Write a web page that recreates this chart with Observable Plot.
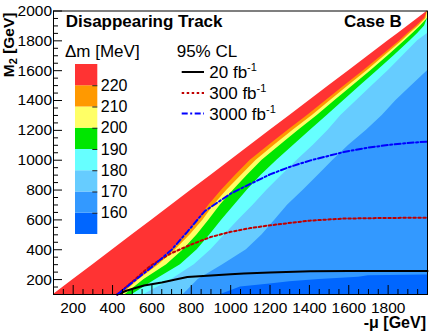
<!DOCTYPE html>
<html><head><meta charset="utf-8">
<script src="https://cdn.jsdelivr.net/npm/d3@7"></script>
<script src="https://cdn.jsdelivr.net/npm/@observablehq/plot@0.6"></script>
<style>
body{margin:0;background:#fff;}
#wrap{position:relative;width:433px;height:335px;font-family:"Liberation Sans",Arial,Helvetica,sans-serif;}
#wrap svg{position:absolute;overflow:visible;}
</style></head><body><div id="wrap"></div>
<script>
// ---- data: contour boundaries of Δm (x = -μ at each M2 row) ----
const yRows = [100,200,300,400,500,600,700,800,900,1000,1100,1200,1300,1400,1500,1600,1700,1800,1850,1900,1950,2000];
const c220 = [435,520,615,700,770,835,890,955,1025,1100,1195,1292,1390,1485,1580,1675,1768,1860,1900,1945,1985,2000];
const c210 = [448,535,635,720,795,860,915,982,1055,1130,1222,1317,1415,1507,1600,1693,1783,1872,1911,1955,1992,2000];
const c200 = [465,560,675,760,830,890,948,1015,1085,1160,1252,1345,1440,1530,1622,1712,1800,1885,1925,1965,2000,2000];
const c190 = [500,620,745,830,895,955,1020,1085,1155,1235,1320,1405,1490,1575,1660,1745,1830,1912,1950,1985,2000,2000];
const c180 = [560,700,815,900,970,1040,1115,1185,1260,1338,1420,1495,1560,1640,1720,1800,1875,1950,2000,2000,2000,2000];
const c170 = [760,835,960,1080,1160,1225,1290,1370,1445,1520,1600,1690,1770,1840,1920,2000,2000,2000,2000,2000,2000,2000];
// region below 160 MeV (bottom right): top edge in M2 vs -μ
const c160X = [950,1050,1200,1300,1450,1650,1700,2000];
const c160Y = [100,150,170,185,200,215,225,230];
// palette
const dmLevels = [150,160,170,180,190,200,210,220,230];
const dmColors = ["#0066ff","#3399ff","#66ccff","#66ffff","#00e600","#ffff66","#ff9900","#ff3333"];
const dmTicks = [160,170,180,190,200,210,220];
// limit curves
const l20X = [424,470,520,560,650,720,780,900,1000,1067,1200,1406,1600,1800,2000];
const l20Y = [100,125,145,160,180,200,217,228,235,240,247,255,258,258,258];
const l300X = [424,500,590,694,800,898,1000,1100,1202,1400,1575,1800,2000];
const l300Y = [100,185,290,374,435,485,520,545,564,595,609,613,615];
const l3000X = [424,500,600,700,780,840,870,1000,1067,1200,1300,1406,1500,1575,1700,1800,1900,2000];
const l3000Y = [100,180,285,400,520,615,660,776,820,905,955,999,1030,1055,1085,1102,1115,1125];
// axis ticks
const xTickLabels = [200,400,600,800,1000,1200,1400,1600,1800];
const yTickLabels = [200,400,600,800,1000,1200,1400,1600,1800,2000];

const xMin=100,xMax=2000,yMin=100,yMax=2000;
const W=433,H=335,mL=53,mR=6,mT=10.5,mB=41;
const frameW=W-mL-mR, frameH=H-mT-mB;

const bandRows = xs => yRows.map((y,i)=>({y, x1: xs[i], x2: xMax}));
const layers = [
  {rows: bandRows(yRows), fill: dmColors[7]},
  {rows: bandRows(c220), fill: dmColors[6]},
  {rows: bandRows(c210), fill: dmColors[5]},
  {rows: bandRows(c200), fill: dmColors[4]},
  {rows: bandRows(c190), fill: dmColors[3]},
  {rows: bandRows(c180), fill: dmColors[2]},
  {rows: bandRows(c170), fill: dmColors[1]}
];
const darkRows = c160X.map((x,i)=>({x, y: c160Y[i]}));
const toRows = (xs,ys)=>xs.map((x,i)=>({x, y: ys[i]}));
const minorX = d3.range(100,2001,50).filter(v=>v%200!==0);
const minorY = d3.range(100,2001,50).filter(v=>v%200!==0);
const fmt = d => String(d);

const font = '"Liberation Sans",Arial,Helvetica,sans-serif';
const main = Plot.plot({
  width: W, height: H, marginLeft: mL, marginRight: mR, marginTop: mT, marginBottom: mB,
  style: {fontFamily: font, fontSize: "15.5px", color: "black", background: "transparent"},
  x: {domain: [xMin,xMax], axis: null},
  y: {domain: [yMin,yMax], axis: null},
  marks: [
    ...layers.map(l => Plot.areaX(l.rows, {y: "y", x1: "x1", x2: "x2", fill: l.fill})),
    Plot.areaY(darkRows, {x: "x", y1: yMin, y2: "y", fill: dmColors[0]}),
    Plot.line(toRows(l20X,l20Y), {x:"x", y:"y", stroke:"black", strokeWidth:2}),
    Plot.line(toRows(l300X,l300Y), {x:"x", y:"y", stroke:"#c00000", strokeWidth:2, strokeDasharray:"2.5,2.5"}),
    Plot.line(toRows(l3000X,l3000Y), {x:"x", y:"y", stroke:"#0000ff", strokeWidth:2, strokeDasharray:"6,2.5,2,2.5"}),
    Plot.ruleX(minorX, {x: d=>d, stroke:"black", insetTop: frameH-5}),
    Plot.ruleX(xTickLabels, {x: d=>d, stroke:"black", insetTop: frameH-9}),
    Plot.ruleY(minorY, {y: d=>d, stroke:"black", insetRight: frameW-5}),
    Plot.ruleY(yTickLabels, {y: d=>d, stroke:"black", insetRight: frameW-9}),
    Plot.axisX({ticks: xTickLabels, tickFormat: fmt, tickSize: 0, tickPadding: 7, label: null, fontSize: 15.5}),
    Plot.axisY({ticks: yTickLabels, tickFormat: fmt, tickSize: 0, tickPadding: 1.5, label: null, fontSize: 15.5}),
    Plot.frame({stroke: "black", strokeWidth: 1})
  ]
});
main.style.left = "0px"; main.style.top = "0px";
document.getElementById("wrap").appendChild(main);

// colour bar
const barW = 22.3, barH = 170;
const cbRows = dmColors.map((c,i)=>({lo: dmLevels[i], hi: dmLevels[i+1], color: c}));
const cb = Plot.plot({
  width: barW+40, height: barH+20, marginLeft: 0, marginRight: 40, marginTop: 10, marginBottom: 10,
  style: {fontFamily: font, fontSize: "16px", color: "black", background: "transparent"},
  x: {axis: null}, y: {domain: [dmLevels[0], dmLevels[dmLevels.length-1]], axis: null},
  color: {type: "identity"},
  marks: [
    Plot.rect(cbRows, {y1: "lo", y2: "hi", fill: "color"}),
    Plot.ruleY(dmTicks, {y: d=>d, stroke: "#222", insetLeft: barW-5}),
    Plot.axisY({anchor: "right", ticks: dmTicks, tickFormat: fmt, tickSize: 0, tickPadding: 3, label: null, fontSize: 16})
  ]
});
cb.style.left = "75px"; cb.style.top = "54px";
document.getElementById("wrap").appendChild(cb);

// annotations
const ns = "http://www.w3.org/2000/svg";
const ov = document.createElementNS(ns, "svg");
ov.setAttribute("width", W); ov.setAttribute("height", H);
ov.style.left = "0px"; ov.style.top = "0px";
ov.setAttribute("font-family", font);
ov.innerHTML = `
<text x="65.7" y="27" font-weight="bold" font-size="17">Disappearing Track</text>
<text x="401.7" y="27" text-anchor="end" font-weight="bold" font-size="17">Case B</text>
<text x="65" y="57.3" font-size="17">Δm [MeV]</text>
<text x="176.7" y="56.7" font-size="17">95% CL</text>
<line x1="181.7" x2="204" y1="72" y2="72" stroke="black" stroke-width="2"/>
<line x1="181.7" x2="204" y1="93" y2="93" stroke="#c00000" stroke-width="2" stroke-dasharray="2.5,2.5"/>
<line x1="181.7" x2="204" y1="113.5" y2="113.5" stroke="#0000ff" stroke-width="2" stroke-dasharray="6,2.5,2,2.5"/>
<text x="209.3" y="78" font-size="17">20 fb<tspan font-size="11" dy="-7">-1</tspan></text>
<text x="209.3" y="99" font-size="17">300 fb<tspan font-size="11" dy="-7">-1</tspan></text>
<text x="209.3" y="119.5" font-size="17">3000 fb<tspan font-size="11" dy="-7">-1</tspan></text>
<text transform="translate(13.5,12.5) rotate(-90)" text-anchor="end" font-weight="bold" font-size="15.5">M<tspan font-size="11" dy="3">2</tspan><tspan dy="-3"> [GeV]</tspan></text>
<text x="426" y="328" text-anchor="end" font-weight="bold" font-size="16">-μ [GeV]</text>
`;
document.getElementById("wrap").appendChild(ov);
</script></body></html>
